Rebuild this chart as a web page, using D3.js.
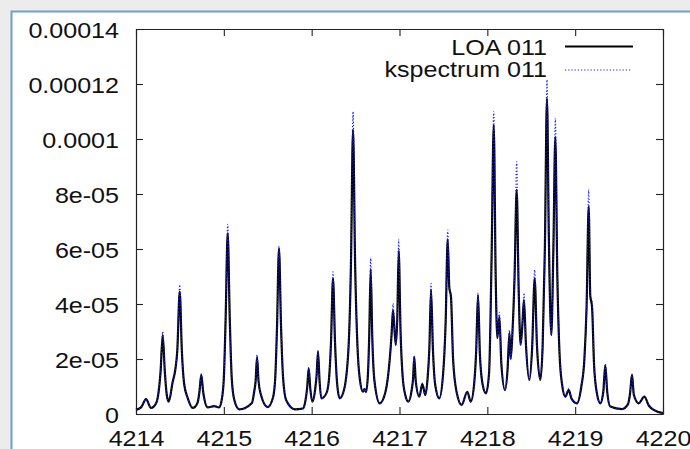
<!DOCTYPE html>
<html>
<head>
<meta charset="utf-8">
<script src="https://cdn.jsdelivr.net/npm/d3@7"></script>
<style>
  html, body { margin: 0; padding: 0; background: #ececec; }
  svg { display: block; font-family: "Liberation Sans", Arial, sans-serif; }
</style>
</head>
<body>
<svg id="chart" width="690" height="449"></svg>
<script>
// Wavenumber grid (cm^-1) of the sampled spectrum
const wavenumber = [
  4214.000, 4214.060, 4214.114, 4214.171, 4214.230, 4214.255, 4214.280, 4214.304,
  4214.328, 4214.350, 4214.372, 4214.418, 4214.447, 4214.470, 4214.498, 4214.522,
  4214.548, 4214.589, 4214.646, 4214.700, 4214.722, 4214.743, 4214.765, 4214.816,
  4214.891, 4214.945, 4214.975, 4215.000, 4215.020, 4215.044, 4215.068, 4215.090,
  4215.120, 4215.176, 4215.320, 4215.345, 4215.362, 4215.378, 4215.395, 4215.423,
  4215.499, 4215.560, 4215.585, 4215.605, 4215.628, 4215.652, 4215.675, 4215.710,
  4215.810, 4215.900, 4215.930, 4215.950, 4215.966, 4215.985, 4216.007, 4216.040,
  4216.056, 4216.072, 4216.090, 4216.110, 4216.167, 4216.195, 4216.220, 4216.243,
  4216.266, 4216.290, 4216.319, 4216.370, 4216.421, 4216.447, 4216.471, 4216.495,
  4216.521, 4216.547, 4216.584, 4216.601, 4216.619, 4216.640, 4216.655, 4216.672,
  4216.690, 4216.715, 4216.775, 4216.840, 4216.888, 4216.910, 4216.926, 4216.957,
  4216.975, 4216.991, 4217.012, 4217.035, 4217.065, 4217.100, 4217.140, 4217.155,
  4217.168, 4217.185, 4217.225, 4217.260, 4217.294, 4217.320, 4217.340, 4217.359,
  4217.380, 4217.405, 4217.453, 4217.495, 4217.525, 4217.549, 4217.567, 4217.586,
  4217.610, 4217.650, 4217.708, 4217.772, 4217.811, 4217.850, 4217.873, 4217.894,
  4217.915, 4217.945, 4217.985, 4218.020, 4218.048, 4218.073, 4218.095, 4218.114,
  4218.137, 4218.160, 4218.201, 4218.230, 4218.252, 4218.266, 4218.285, 4218.310,
  4218.334, 4218.357, 4218.379, 4218.400, 4218.417, 4218.440, 4218.478, 4218.510,
  4218.539, 4218.565, 4218.603, 4218.630, 4218.655, 4218.679, 4218.700, 4218.728,
  4218.752, 4218.774, 4218.797, 4218.822, 4218.850, 4218.888, 4218.926, 4218.960,
  4219.021, 4219.070, 4219.105, 4219.130, 4219.154, 4219.172, 4219.192, 4219.215,
  4219.245, 4219.286, 4219.320, 4219.343, 4219.365, 4219.400, 4219.533, 4219.600,
  4219.625, 4219.647, 4219.668, 4219.723, 4219.787, 4219.840, 4219.894, 4220.000
];

// LOA 011 line-by-line result
const loa011 = [
  1.5e-6, 2.5e-6, 5.4e-6, 2.2e-6, 4.0e-6, 7.5e-6, 1.55e-5, 2.87e-5,
  1.55e-5, 7.0e-6, 4.5e-6, 1.17e-5, 1.6e-5, 2.3e-5, 4.45e-5, 2.3e-5,
  1.1e-5, 5.8e-6, 2.2e-6, 4.0e-6, 8.0e-6, 1.42e-5, 8.0e-6, 2.4e-6,
  2.9e-6, 2.4e-6, 5.0e-6, 1.3e-5, 3.4e-5, 6.57e-5, 3.4e-5, 1.3e-5,
  5.0e-6, 1.7e-6, 4.0e-6, 8.0e-6, 1.2e-5, 2.08e-5, 1.2e-5, 6.9e-6,
  2.5e-6, 6.0e-6, 1.3e-5, 3.1e-5, 6.02e-5, 3.1e-5, 1.3e-5, 5.0e-6,
  1.7e-6, 2.0e-6, 5.0e-6, 1.0e-5, 1.66e-5, 9.0e-6, 4.5e-6, 9.0e-6,
  1.4e-5, 2.27e-5, 1.2e-5, 5.7e-6, 7.5e-6, 1.2e-5, 2.6e-5, 4.93e-5,
  2.6e-5, 1.1e-5, 5.7e-6, 9.0e-6, 2.5e-5, 5.4e-5, 1.033e-4, 5.4e-5,
  2.5e-5, 1.3e-5, 8.1e-6, 9.1e-6, 8.0e-6, 1.4e-5, 2.8e-5, 5.26e-5,
  2.8e-5, 1.2e-5, 3.9e-6, 8.0e-6, 1.96e-5, 2.9e-5, 3.78e-5, 2.51e-5,
  3.5e-5, 5.94e-5, 3.0e-5, 1.4e-5, 7.0e-6, 4.5e-6, 9.0e-6, 1.3e-5,
  2.08e-5, 1.2e-5, 6.3e-6, 1.09e-5, 6.9e-6, 1.3e-5, 2.4e-5, 4.51e-5,
  2.4e-5, 1.1e-5, 5.7e-6, 1.4e-5, 3.3e-5, 6.35e-5, 4.6e-5, 4.27e-5,
  2.0e-5, 8.0e-6, 3.3e-6, 8.1e-6, 4.5e-6, 1.1e-5, 2.3e-5, 4.33e-5,
  2.2e-5, 1.1e-5, 7.5e-6, 1.5e-5, 5.6e-5, 1.051e-4, 5.0e-5, 2.76e-5,
  3.54e-5, 1.8e-5, 8.7e-6, 1.6e-5, 2.95e-5, 2.0e-5, 2.9e-5, 5.0e-5,
  8.15e-5, 4.5e-5, 2.51e-5, 3.3e-5, 4.15e-5, 2.5e-5, 1.24e-5, 2.4e-5,
  4.93e-5, 2.5e-5, 1.24e-5, 2.5e-5, 6.0e-5, 1.148e-4, 6.5e-5, 2.87e-5,
  6.0e-5, 1.008e-4, 5.0e-5, 2.2e-5, 1.1e-5, 6.3e-6, 8.7e-6, 5.5e-6,
  3.9e-6, 1.0e-5, 2.0e-5, 3.9e-5, 7.54e-5, 4.3e-5, 3.9e-5, 1.8e-5,
  8.0e-6, 3.9e-6, 8.0e-6, 1.78e-5, 8.0e-6, 2.7e-6, 1.8e-6, 3.5e-6,
  7.5e-6, 1.42e-5, 7.0e-6, 3.9e-6, 6.3e-6, 3.0e-6, 1.5e-6, 3.0e-7
];

// kspectrum 011 result on the same grid
const kspec011 = [
  1.5e-6, 2.5e-6, 5.4e-6, 2.2e-6, 4.0e-6, 7.5e-6, 1.55e-5, 3.00e-5,
  1.55e-5, 7.0e-6, 4.5e-6, 1.17e-5, 1.6e-5, 2.3e-5, 4.70e-5, 2.3e-5,
  1.1e-5, 5.8e-6, 2.2e-6, 4.0e-6, 8.0e-6, 1.46e-5, 8.0e-6, 2.4e-6,
  2.9e-6, 2.4e-6, 5.0e-6, 1.3e-5, 3.4e-5, 6.90e-5, 3.4e-5, 1.3e-5,
  5.0e-6, 1.7e-6, 4.0e-6, 8.0e-6, 1.2e-5, 2.15e-5, 1.2e-5, 6.9e-6,
  2.5e-6, 6.0e-6, 1.3e-5, 3.1e-5, 6.10e-5, 3.1e-5, 1.3e-5, 5.0e-6,
  1.7e-6, 2.0e-6, 5.0e-6, 1.0e-5, 1.70e-5, 9.0e-6, 4.5e-6, 9.0e-6,
  1.4e-5, 2.33e-5, 1.2e-5, 5.7e-6, 7.5e-6, 1.2e-5, 2.6e-5, 5.17e-5,
  2.6e-5, 1.1e-5, 5.7e-6, 9.0e-6, 2.5e-5, 5.4e-5, 1.099e-4, 5.4e-5,
  2.5e-5, 1.3e-5, 8.1e-6, 9.1e-6, 8.0e-6, 1.4e-5, 2.8e-5, 5.66e-5,
  2.8e-5, 1.2e-5, 3.9e-6, 8.0e-6, 1.96e-5, 2.9e-5, 4.02e-5, 2.51e-5,
  3.5e-5, 6.35e-5, 3.0e-5, 1.4e-5, 7.0e-6, 4.5e-6, 9.0e-6, 1.3e-5,
  2.13e-5, 1.2e-5, 6.3e-6, 1.12e-5, 6.9e-6, 1.3e-5, 2.4e-5, 4.75e-5,
  2.4e-5, 1.1e-5, 5.7e-6, 1.4e-5, 3.3e-5, 6.69e-5, 4.6e-5, 4.27e-5,
  2.0e-5, 8.0e-6, 3.3e-6, 8.1e-6, 4.5e-6, 1.1e-5, 2.3e-5, 4.40e-5,
  2.2e-5, 1.1e-5, 7.5e-6, 1.5e-5, 5.6e-5, 1.100e-4, 5.0e-5, 2.76e-5,
  3.70e-5, 1.8e-5, 8.7e-6, 1.6e-5, 3.05e-5, 2.0e-5, 2.9e-5, 5.0e-5,
  9.17e-5, 4.5e-5, 2.51e-5, 3.3e-5, 4.40e-5, 2.5e-5, 1.24e-5, 2.4e-5,
  5.24e-5, 2.5e-5, 1.24e-5, 2.5e-5, 6.0e-5, 1.215e-4, 6.5e-5, 2.87e-5,
  6.0e-5, 1.075e-4, 5.0e-5, 2.2e-5, 1.1e-5, 6.3e-6, 9.2e-6, 5.5e-6,
  3.9e-6, 1.0e-5, 2.0e-5, 3.9e-5, 8.17e-5, 4.3e-5, 4.1e-5, 1.8e-5,
  8.0e-6, 3.9e-6, 8.0e-6, 1.82e-5, 8.0e-6, 2.7e-6, 1.8e-6, 3.5e-6,
  7.5e-6, 1.45e-5, 7.0e-6, 3.9e-6, 6.3e-6, 3.0e-6, 1.5e-6, 3.0e-7
];

const xTicks = [4214, 4215, 4216, 4217, 4218, 4219, 4220];
const xTickLabels = ["4214", "4215", "4216", "4217", "4218", "4219", "4220"];
const yTicks = [0, 2e-5, 4e-5, 6e-5, 8e-5, 1e-4, 1.2e-4, 1.4e-4];
const yTickLabels = ["0", "2e-05", "4e-05", "6e-05", "8e-05", "0.0001", "0.00012", "0.00014"];
const seriesNames = ["LOA 011", "kspectrum 011"];

const W = 690, H = 449;
const plot = { left: 136, right: 663, top: 29, bottom: 414 };
const fontSize = 22, stretch = 1.14, tickLen = 7;
const fontStack = "'Liberation Sans', Arial, sans-serif";

const svg = d3.select("#chart");

// page backdrop and framed panel
svg.append("rect").attr("width", W).attr("height", H).attr("fill", "#ececec");
svg.append("rect")
  .attr("x", 11.5).attr("y", 11.5)
  .attr("width", W + 20).attr("height", H + 20)
  .attr("fill", "#ffffff")
  .attr("stroke", "#6c9fd4").attr("stroke-width", 2);

const x = d3.scaleLinear().domain([4214, 4220]).range([plot.left, plot.right]);
const y = d3.scaleLinear().domain([0, 0.00014]).range([plot.bottom, plot.top]);

function styleAxis(g) {
  g.attr("color", "#222");
  g.select(".domain").attr("stroke-width", 1.2);
  g.selectAll(".tick line").attr("stroke-width", 1.1);
  g.selectAll(".tick text").remove();
}

// bottom axis with labels
const gx = svg.append("g")
  .attr("transform", `translate(0,${plot.bottom})`)
  .call(d3.axisBottom(x).tickValues(xTicks).tickSizeInner(-tickLen).tickSizeOuter(0).tickFormat(""));
styleAxis(gx);
gx.selectAll(".tick").append("text")
  .attr("transform", `translate(0,31.5) scale(${stretch},1)`)
  .attr("text-anchor", "middle")
  .attr("fill", "#111")
  .attr("font-size", fontSize)
  .attr("font-family", fontStack)
  .text((d, i) => xTickLabels[i]);

// left axis with labels
const gy = svg.append("g")
  .attr("transform", `translate(${plot.left},0)`)
  .call(d3.axisLeft(y).tickValues(yTicks).tickSizeInner(-tickLen).tickSizeOuter(0).tickFormat(""));
styleAxis(gy);
gy.selectAll(".tick").append("text")
  .attr("transform", `translate(-17,8) scale(${stretch},1)`)
  .attr("text-anchor", "end")
  .attr("fill", "#111")
  .attr("font-size", fontSize)
  .attr("font-family", fontStack)
  .text((d, i) => yTickLabels[i]);

// mirrored top and right axes (ticks only)
const gt = svg.append("g")
  .attr("transform", `translate(0,${plot.top})`)
  .call(d3.axisTop(x).tickValues(xTicks).tickSizeInner(-tickLen).tickSizeOuter(0).tickFormat(""));
styleAxis(gt);
const gr = svg.append("g")
  .attr("transform", `translate(${plot.right},0)`)
  .call(d3.axisRight(y).tickValues(yTicks).tickSizeInner(-tickLen).tickSizeOuter(0).tickFormat(""));
styleAxis(gr);

// spectra
const line = d3.line()
  .x((d, i) => x(wavenumber[i]))
  .y(d => y(d))
  .curve(d3.curveMonotoneX);

svg.append("path")
  .datum(loa011)
  .attr("d", line)
  .attr("fill", "none")
  .attr("stroke", "#000")
  .attr("stroke-width", 2.2)
  .attr("stroke-linejoin", "round");

svg.append("path")
  .datum(kspec011)
  .attr("d", line)
  .attr("fill", "none")
  .attr("stroke", "#1c1cff")
  .attr("stroke-width", 1.2)
  .attr("stroke-dasharray", "1.2,2");

// legend
const legend = svg.append("g");
const legendRows = [
  { name: seriesNames[0], y: 55, ly: 46.5, color: "#000", width: 2.2, dash: null, x2: 633 },
  { name: seriesNames[1], y: 77, ly: 70, color: "#1c1cff", width: 1.2, dash: "1.2,2", x2: 631 }
];
legendRows.forEach(r => {
  legend.append("text")
    .attr("transform", `translate(547,${r.y}) scale(${stretch},1)`)
    .attr("text-anchor", "end")
    .attr("fill", "#111")
    .attr("font-size", fontSize)
    .attr("font-family", fontStack)
    .text(r.name);
  legend.append("line")
    .attr("x1", 565).attr("x2", r.x2)
    .attr("y1", r.ly).attr("y2", r.ly)
    .attr("stroke", r.color)
    .attr("stroke-width", r.width)
    .attr("stroke-dasharray", r.dash);
});
</script>
</body>
</html>
